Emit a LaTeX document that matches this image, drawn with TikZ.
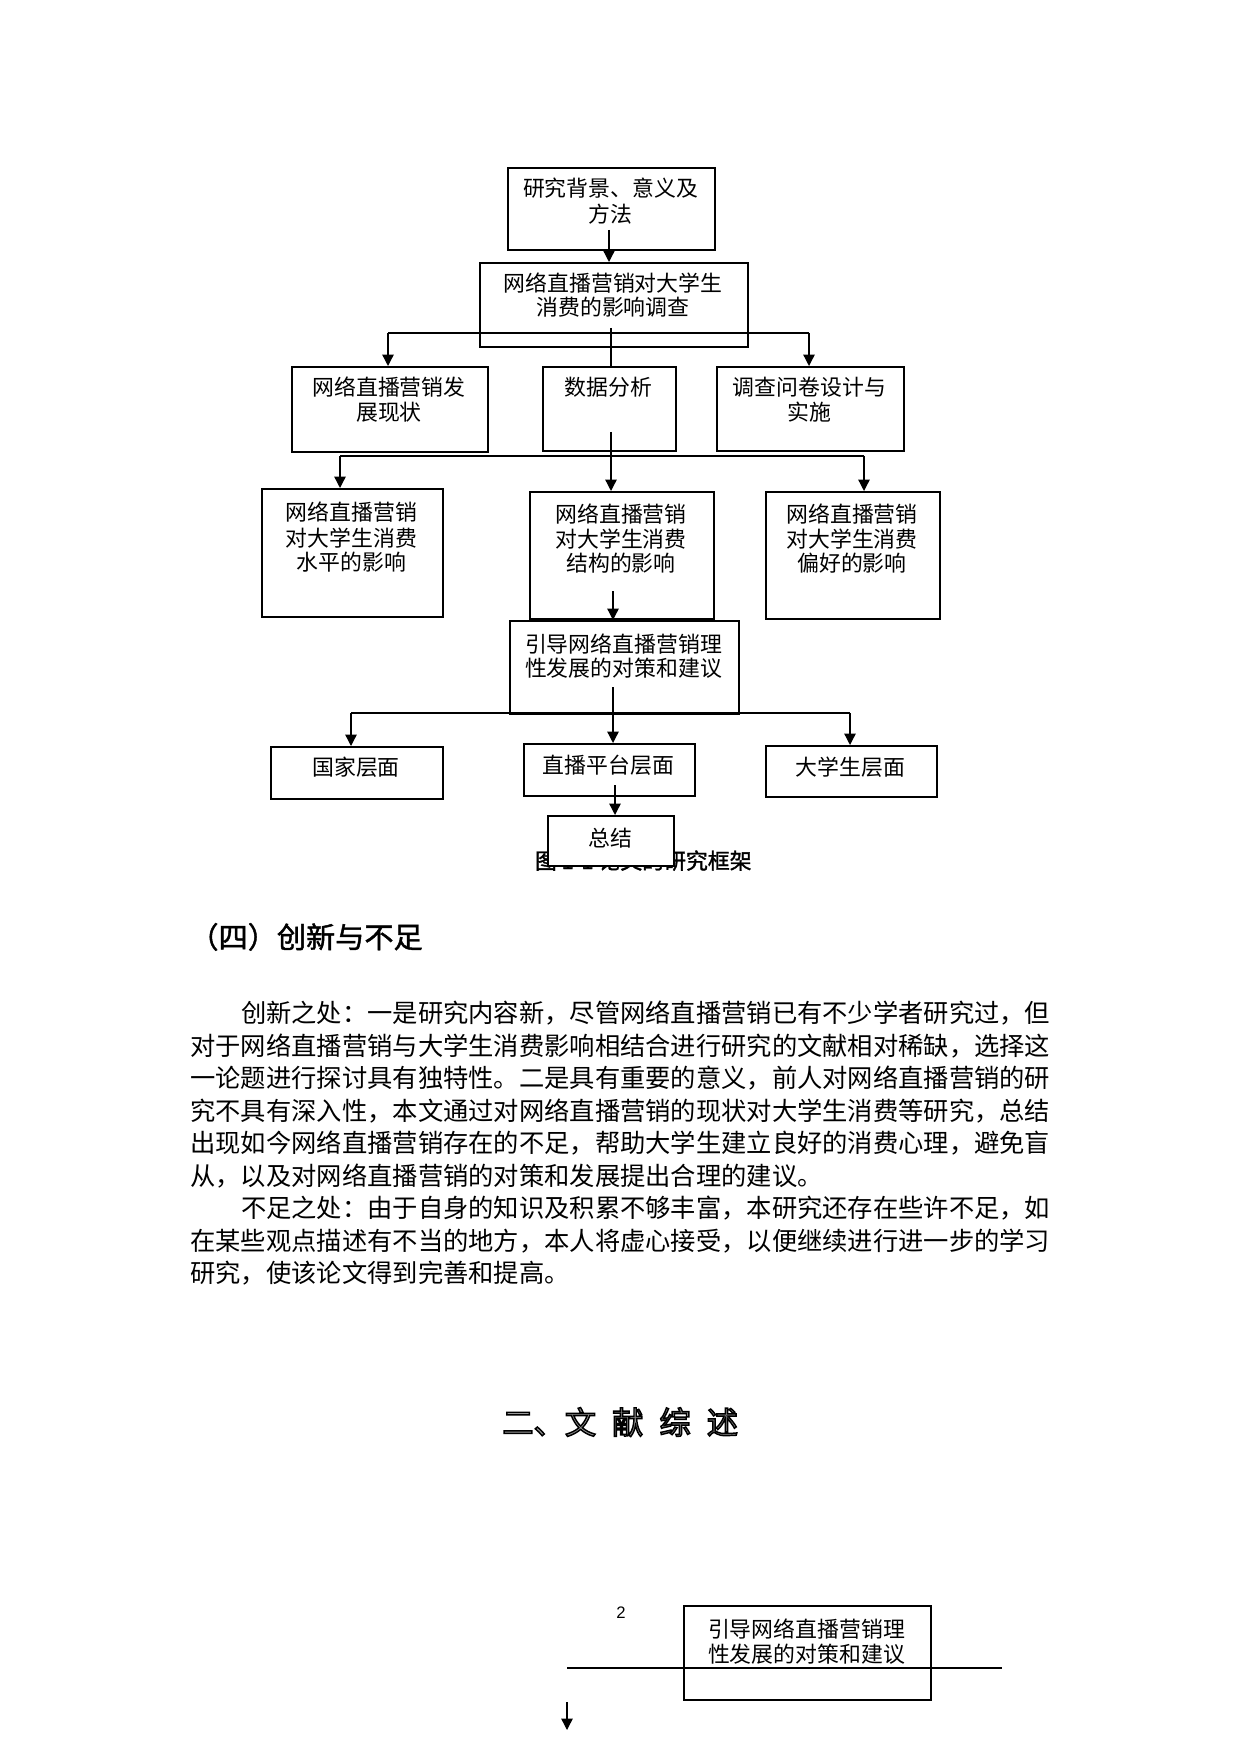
\documentclass[tikz,border=0pt]{standalone}
\usepackage{fontspec}
\setmainfont{Noto Sans CJK SC}
\newfontfamily\latinsans{Liberation Sans}
\usetikzlibrary{arrows.meta,calc}
\tikzset{
  boxst/.style={draw, line width=0.8pt, inner sep=0pt, anchor=north west},
  btxt/.style={inner sep=0pt, anchor=base, font=\fontsize{10.5pt}{12pt}\selectfont},
  conn/.style={line width=0.65pt},
  arr/.style={line width=0.65pt, -{Triangle[width=5.5pt,length=5.5pt]}},
  para/.style={inner sep=0pt, anchor=base west, font=\fontsize{12.14pt}{14pt}\selectfont},
}
\newcommand\mkbox[6]{\node[boxst, minimum width={(#4-#2)*0.48006pt}, minimum height={(#5-#3)*0.48006pt}, #6] (#1) at (#2,#3) {};}
\newcommand\heavytext[2]{\special{pdf:literal direct 0 G #1 w 2 Tr}#2\special{pdf:literal direct 0 Tr}}
\begin{document}
\begin{tikzpicture}[x=0.48006pt, y=-0.48006pt]
\useasboundingbox (0,0) rectangle (1240,1754);
\fill[white] (0,0) rectangle (1240,1754);

% boxes
\mkbox{top}{507}{167}{714}{249}{}
\mkbox{mid}{479}{262}{747}{346}{}
\mkbox{b2a}{291}{366}{487}{451}{}
\mkbox{b2b}{542}{366}{675}{450}{}
\mkbox{b2c}{716}{366}{903}{450}{}
\mkbox{b3a}{261}{488}{442}{616}{}
\mkbox{b3b}{529}{491}{713}{618}{}
\mkbox{b3c}{765}{491}{939}{618}{}
\mkbox{b4}{509}{620}{738}{713}{}
\mkbox{b5a}{270}{746}{442}{798}{}
\mkbox{b5b}{523}{743}{694}{795}{}
\mkbox{b5c}{765}{745}{936}{796}{}

% box texts
\node[btxt] (t0a) at (610.5,197) {研究背景、意义及};
\node[btxt] (t0b) at (610.5,223) {方法};
\node[btxt] (t1a) at (613,292) {网络直播营销对大学生};
\node[btxt] (t1b) at (613,316) {消费的影响调查};
\node[btxt] (t2aa) at (389,396) {网络直播营销发};
\node[btxt] (t2ab) at (389,421) {展现状};
\node[btxt] (t2b) at (608.5,396) {数据分析};
\node[btxt] (t2ca) at (809.5,396) {调查问卷设计与};
\node[btxt] (t2cb) at (809.5,421) {实施};
\node[btxt] (t3aa) at (351.5,521) {网络直播营销};
\node[btxt] (t3ab) at (351.5,546) {对大学生消费};
\node[btxt] (t3ac) at (351.5,570) {水平的影响};
\node[btxt] (t3ba) at (621,522) {网络直播营销};
\node[btxt] (t3bb) at (621,547) {对大学生消费};
\node[btxt] (t3bc) at (621,571) {结构的影响};
\node[btxt] (t3ca) at (852,522) {网络直播营销};
\node[btxt] (t3cb) at (852,547) {对大学生消费};
\node[btxt] (t3cc) at (852,571) {偏好的影响};
\node[btxt] (t4a) at (623.5,652) {引导网络直播营销理};
\node[btxt] (t4b) at (623.5,676) {性发展的对策和建议};
\node[btxt] (t5a) at (356,775) {国家层面};
\node[btxt] (t5b) at (608.5,773) {直播平台层面};
\node[btxt] (t5c) at (850.5,775) {大学生层面};

% connectors
\coordinate (s0) at (609,230);
\draw[arr] (s0) -- (s0 |- mid.north);
\coordinate (s1) at (611,328);
\draw[conn] (s1) -- (s1 |- b2b.north);
\coordinate (h1l) at (388,333);
\coordinate (h1r) at (809,333);
\draw[conn] (h1l) -- (h1r);
\draw[arr] (h1l) -- (h1l |- b2a.north);
\draw[arr] (h1r) -- (h1r |- b2c.north);
\coordinate (s2) at (611,432);
\draw[arr] (s2) -- (s2 |- b3b.north);
\coordinate (h2l) at (340,456);
\coordinate (h2r) at (864,456);
\draw[conn] (h2l) -- (h2r);
\draw[arr] (h2l) -- (h2l |- b3a.north);
\draw[arr] (h2r) -- (h2r |- b3c.north);
\coordinate (s3) at (613,591);
\draw[arr] (s3) -- (s3 |- b4.north);
\coordinate (s4) at (613,687);
\draw[arr] (s4) -- (s4 |- b5b.north);
\coordinate (h3l) at (351,713);
\coordinate (h3r) at (850,713);
\draw[conn] (h3l) -- (h3r);
\draw[arr] (h3l) -- (h3l |- b5a.north);
\draw[arr] (h3r) -- (h3r |- b5c.north);

% caption (partly hidden by the box)
\node[inner sep=0pt, anchor=base east, font=\fontsize{10.5pt}{12pt}\selectfont] (cap) at (752,869) {\heavytext{0.15}{图 1-1 论文的研究框架}};
\mkbox{b6}{547}{815}{673}{865}{fill=white}
\node[btxt] (t6) at (610,846) {总结};
\coordinate (s5) at (615,785);
\draw[arr] (s5) -- (s5 |- b6.north);

% section heading
\node[inner sep=0pt, anchor=base west, font=\fontsize{14pt}{16pt}\selectfont] (h4) at (189,948) {\heavytext{0.2}{（四）创新与不足}};

% paragraph
\node[para] (p1) at (240.6,1022.6) {创新之处：一是研究内容新，尽管网络直播营销已有不少学者研究过，但};
\node[para] (p2) at (190,1055.1) {对于网络直播营销与大学生消费影响相结合进行研究的文献相对稀缺，选择这};
\node[para] (p3) at (190,1087.6) {一论题进行探讨具有独特性。二是具有重要的意义，前人对网络直播营销的研};
\node[para] (p4) at (190,1120.1) {究不具有深入性，本文通过对网络直播营销的现状对大学生消费等研究，总结};
\node[para] (p5) at (190,1152.6) {出现如今网络直播营销存在的不足，帮助大学生建立良好的消费心理，避免盲};
\node[para] (p6) at (190,1185.1) {从，以及对网络直播营销的对策和发展提出合理的建议。};
\node[para] (p7) at (240.6,1217.6) {不足之处：由于自身的知识及积累不够丰富，本研究还存在些许不足，如};
\node[para] (p8) at (190,1250.1) {在某些观点描述有不当的地方，本人将虚心接受，以便继续进行进一步的学习};
\node[para] (p9) at (190,1282.6) {研究，使该论文得到完善和提高。};

% page number
\node[inner sep=0pt, anchor=base, font=\latinsans\fontsize{8pt}{9pt}\selectfont] (pg) at (621,1618.5) {2};

% bottom fragment
\mkbox{bb}{683}{1605}{930}{1699}{}
\node[btxt] (tba) at (806.5,1637) {引导网络直播营销理};
\node[btxt] (tbb) at (806.5,1662) {性发展的对策和建议};
\coordinate (hbl) at (567,1668);
\coordinate (hbr) at (1002,1668);
\draw[conn] (hbl) -- (hbr);
\coordinate (ab1) at (567,1702);
\coordinate (ab2) at (567,1730);
\draw[arr] (ab1) -- (ab2);

% outlined chapter heading
\node[inner sep=0pt, anchor=base west, font=\fontsize{15pt}{18pt}\selectfont] (h2) at (502,1434) {\color{black!40}\heavytext{0.7}{二、文\hspace{7.7pt}献\hspace{7.7pt}综\hspace{7.7pt}述}};
\end{tikzpicture}
\end{document}
